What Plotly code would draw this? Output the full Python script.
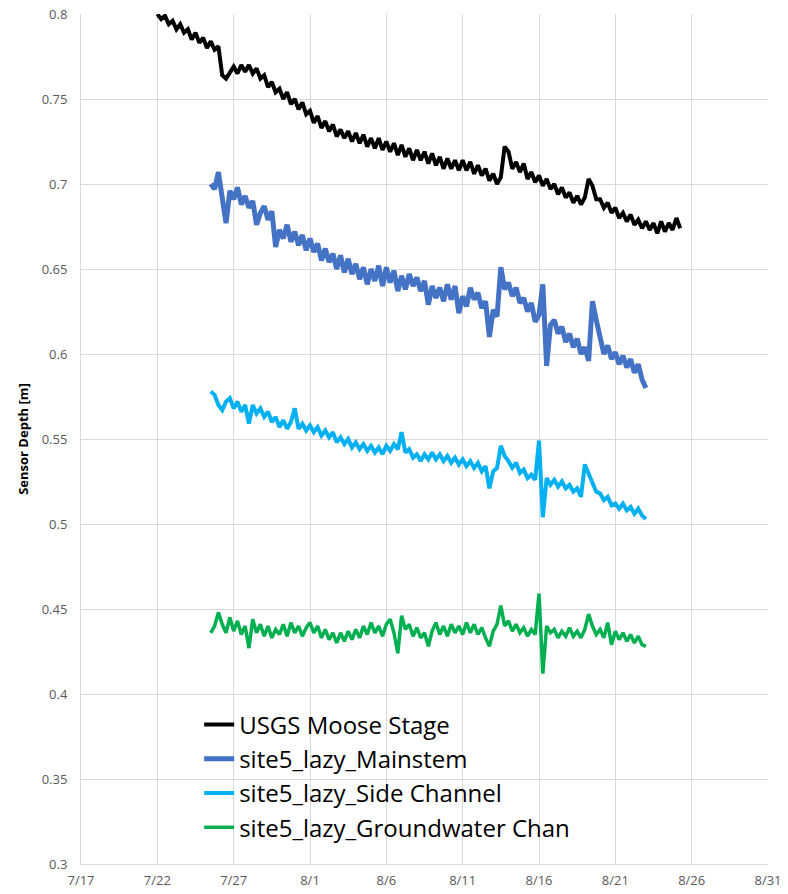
import pandas as pd
import plotly.graph_objects as go

# ---- data (6-hour steps) ----
usgs_start = "2023-07-22 00:00"
usgs_stage = [
    0.800, 0.797, 0.799, 0.794,
    0.796, 0.791, 0.794, 0.789,
    0.791, 0.785, 0.789, 0.783,
    0.786, 0.780, 0.784, 0.779,
    0.781, 0.764, 0.762, 0.766,
    0.769, 0.765, 0.770, 0.766,
    0.770, 0.765, 0.768, 0.762,
    0.764, 0.757, 0.760, 0.754,
    0.756, 0.750, 0.754, 0.747,
    0.750, 0.744, 0.748, 0.741,
    0.743, 0.736, 0.740, 0.733,
    0.737, 0.731, 0.735, 0.728,
    0.732, 0.727, 0.731, 0.725,
    0.730, 0.724, 0.729, 0.722,
    0.727, 0.721, 0.727, 0.720,
    0.725, 0.719, 0.724, 0.717,
    0.723, 0.716, 0.721, 0.714,
    0.720, 0.714, 0.719, 0.712,
    0.718, 0.711, 0.716, 0.709,
    0.715, 0.709, 0.714, 0.708,
    0.714, 0.708, 0.713, 0.706,
    0.711, 0.705, 0.709, 0.702,
    0.706, 0.700, 0.704, 0.722,
    0.719, 0.709, 0.713, 0.707,
    0.712, 0.703, 0.707, 0.701,
    0.705, 0.699, 0.703, 0.697,
    0.700, 0.694, 0.698, 0.692,
    0.695, 0.689, 0.693, 0.688,
    0.692, 0.703, 0.699, 0.691,
    0.691, 0.686, 0.689, 0.683,
    0.686, 0.680, 0.683, 0.678,
    0.682, 0.676, 0.679, 0.674,
    0.678, 0.673, 0.677, 0.671,
    0.678, 0.672, 0.677, 0.673,
    0.680, 0.674,
]

site_start = "2023-07-25 12:00"
mainstem = [
    0.700, 0.697,
    0.707, 0.690, 0.677, 0.696,
    0.691, 0.698, 0.688, 0.693,
    0.686, 0.690, 0.676, 0.683,
    0.687, 0.679, 0.684, 0.663,
    0.673, 0.668, 0.676, 0.666,
    0.672, 0.664, 0.670, 0.661,
    0.668, 0.660, 0.665, 0.655,
    0.662, 0.654, 0.659, 0.650,
    0.658, 0.648, 0.656, 0.647,
    0.653, 0.644, 0.651, 0.641,
    0.650, 0.643, 0.652, 0.640,
    0.651, 0.642, 0.649, 0.637,
    0.646, 0.638, 0.647, 0.640,
    0.645, 0.637, 0.643, 0.629,
    0.640, 0.633, 0.639, 0.631,
    0.641, 0.632, 0.640, 0.624,
    0.634, 0.628, 0.639, 0.632,
    0.636, 0.627, 0.631, 0.610,
    0.626, 0.622, 0.651, 0.638,
    0.642, 0.634, 0.639, 0.630,
    0.633, 0.625, 0.630, 0.619,
    0.623, 0.641, 0.593, 0.617,
    0.620, 0.612, 0.616, 0.607,
    0.612, 0.604, 0.609, 0.600,
    0.604, 0.596, 0.631, 0.620,
    0.609, 0.600, 0.605, 0.597,
    0.601, 0.594, 0.599, 0.592,
    0.597, 0.589, 0.594, 0.585,
    0.580,
]

side_channel = [
    0.578, 0.576,
    0.570, 0.567, 0.572, 0.574,
    0.568, 0.572, 0.566, 0.570,
    0.559, 0.570, 0.565, 0.568,
    0.563, 0.566, 0.560, 0.563,
    0.557, 0.561, 0.556, 0.560,
    0.568, 0.556, 0.559, 0.555,
    0.558, 0.554, 0.557, 0.552,
    0.555, 0.551, 0.554, 0.548,
    0.551, 0.547, 0.550, 0.545,
    0.548, 0.544, 0.547, 0.543,
    0.546, 0.542, 0.545, 0.541,
    0.546, 0.543, 0.547, 0.544,
    0.554, 0.542, 0.544, 0.539,
    0.541, 0.537, 0.541, 0.538,
    0.542, 0.538, 0.541, 0.537,
    0.540, 0.536, 0.539, 0.535,
    0.538, 0.534, 0.537, 0.533,
    0.536, 0.531, 0.534, 0.521,
    0.531, 0.533, 0.546, 0.540,
    0.537, 0.533, 0.536, 0.530,
    0.532, 0.527, 0.529, 0.526,
    0.549, 0.504, 0.527, 0.523,
    0.526, 0.522, 0.525, 0.521,
    0.523, 0.519, 0.521, 0.516,
    0.535, 0.530, 0.524, 0.519,
    0.518, 0.514, 0.516, 0.511,
    0.512, 0.509, 0.512, 0.508,
    0.510, 0.506, 0.509, 0.505,
    0.503,
]

groundwater = [
    0.436, 0.440,
    0.448, 0.441, 0.436, 0.445,
    0.437, 0.443, 0.435, 0.440,
    0.427, 0.444, 0.436, 0.441,
    0.434, 0.440, 0.433, 0.438,
    0.435, 0.441, 0.434, 0.442,
    0.436, 0.440, 0.434, 0.439,
    0.442, 0.436, 0.440, 0.433,
    0.438, 0.432, 0.436, 0.430,
    0.436, 0.431, 0.437, 0.432,
    0.438, 0.433, 0.440, 0.435,
    0.442, 0.436, 0.440, 0.434,
    0.441, 0.444, 0.436, 0.424,
    0.446, 0.438, 0.441, 0.434,
    0.439, 0.433, 0.436, 0.428,
    0.437, 0.442, 0.435, 0.440,
    0.434, 0.441, 0.436, 0.440,
    0.435, 0.442, 0.436, 0.441,
    0.435, 0.439, 0.433, 0.428,
    0.437, 0.441, 0.452, 0.440,
    0.443, 0.437, 0.441, 0.436,
    0.439, 0.434, 0.438, 0.435,
    0.459, 0.412, 0.440, 0.436,
    0.438, 0.433, 0.437, 0.434,
    0.439, 0.434, 0.437, 0.433,
    0.438, 0.447, 0.440, 0.435,
    0.438, 0.433, 0.442, 0.429,
    0.437, 0.432, 0.436, 0.431,
    0.435, 0.430, 0.434, 0.429,
    0.428,
]

series_names = ["USGS Moose Stage", "site5_lazy_Mainstem",
                "site5_lazy_Side Channel", "site5_lazy_Groundwater Chan"]
y_ticks = [0.3, 0.35, 0.4, 0.45, 0.5, 0.55, 0.6, 0.65, 0.7, 0.75, 0.8]
y_tick_labels = ["0.3", "0.35", "0.4", "0.45", "0.5", "0.55", "0.6", "0.65", "0.7", "0.75", "0.8"]

# ---- figure ----
usgs_x = pd.date_range(usgs_start, periods=len(usgs_stage), freq="6h")
site_x = pd.date_range(site_start, periods=len(mainstem), freq="6h")

colors = ["#000000", "#4472C4", "#00B0F0", "#00B050"]
widths = [4, 5, 4, 3.5]
fig = go.Figure()
for name, xs, ys, c, w in [
    (series_names[0], usgs_x, usgs_stage, colors[0], widths[0]),
    (series_names[1], site_x, mainstem, colors[1], widths[1]),
    (series_names[2], site_x, side_channel, colors[2], widths[2]),
    (series_names[3], site_x, groundwater, colors[3], widths[3]),
]:
    fig.add_trace(go.Scatter(x=xs, y=ys, mode="lines", name=name,
                             line=dict(color=c, width=w)))

fig.update_layout(
    width=788, height=894,
    margin=dict(l=81, r=20, t=14, b=30),
    paper_bgcolor="white", plot_bgcolor="white",
    font=dict(family="Open Sans, Liberation Sans, sans-serif", color="#595959"),
    showlegend=True,
    legend=dict(x=0.172, y=0.19, xanchor="left", yanchor="top",
                bgcolor="rgba(255,255,255,0)", itemwidth=30,
                font=dict(size=24, color="#000000")),
)
fig.update_xaxes(
    type="date", range=["2023-07-17", "2023-08-31"], automargin=False,
    tick0="2023-07-17", dtick=5 * 86400000, tickformat="%-m/%-d",
    showgrid=True, gridcolor="#d9d9d9", gridwidth=1,
    showline=True, linecolor="#d9d9d9", linewidth=1,
    ticks="outside", ticklen=4, tickcolor="rgba(0,0,0,0)",
    tickfont=dict(size=13, color="#595959"), zeroline=False,
)
fig.update_yaxes(
    range=[0.3, 0.8], tickvals=y_ticks, ticktext=y_tick_labels, automargin=False,
    showgrid=True, gridcolor="#d9d9d9", gridwidth=1,
    showline=True, linecolor="#d9d9d9", linewidth=1,
    ticks="outside", ticklen=10, tickcolor="rgba(0,0,0,0)",
    tickfont=dict(size=13, color="#595959"), zeroline=False,
    title=dict(text="<b>Sensor Depth [m]</b>", standoff=10,
               font=dict(size=13, color="#000000")),
)

fig.write_html(
    "out.html",
    config={"displayModeBar": False},
    post_script="document.body.style.margin='0';document.body.style.overflow='hidden';",
)
